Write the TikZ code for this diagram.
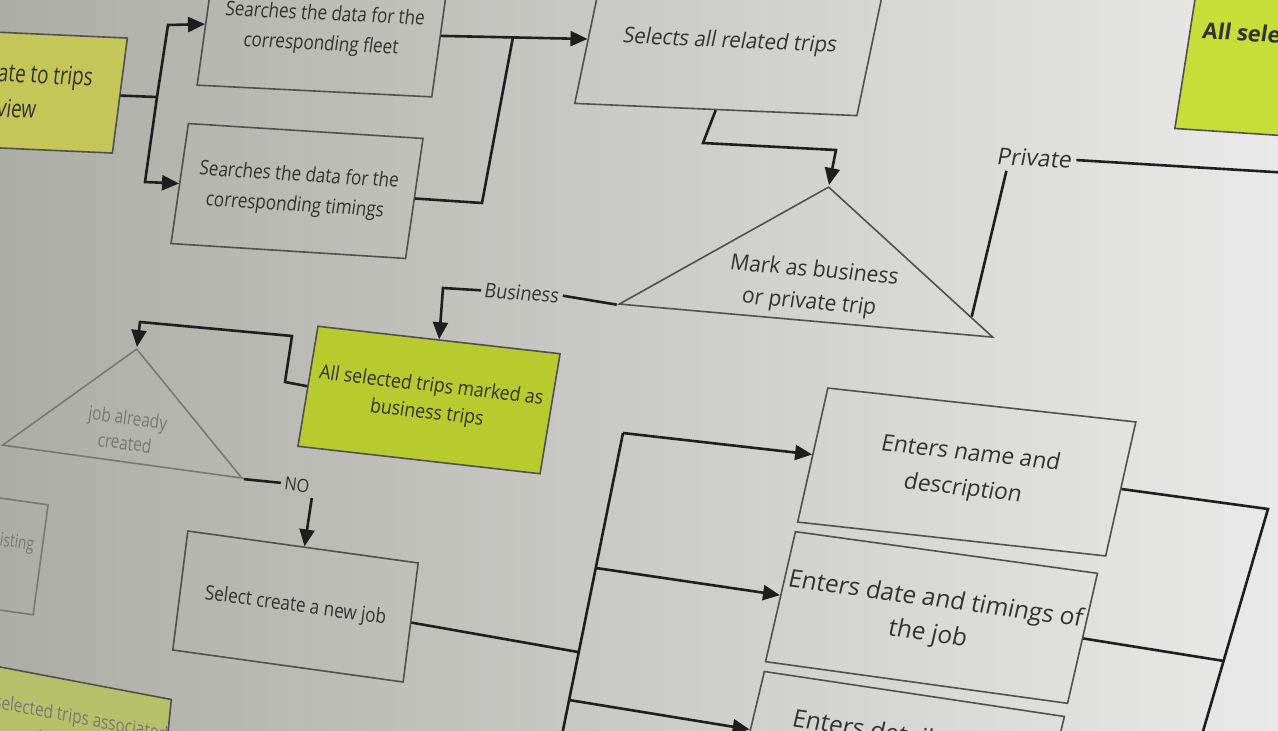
\documentclass[tikz,border=0pt]{standalone}
\usepackage{fontspec}
\setmainfont{Open Sans}
\usetikzlibrary{shapes.geometric,calc,arrows.meta}

\definecolor{bgleft}{RGB}{172,173,165}
\definecolor{bgmid}{RGB}{216,216,214}
\definecolor{bgright}{RGB}{233,233,233}
\definecolor{ink}{RGB}{30,30,30}
\definecolor{edgegray}{RGB}{80,80,80}
\definecolor{txtgray}{RGB}{50,50,50}
\definecolor{faint}{RGB}{120,120,118}
\definecolor{lime}{RGB}{184,203,46}
\definecolor{olive}{RGB}{196,198,88}
\definecolor{brightlime}{RGB}{199,221,56}
\definecolor{palelime}{RGB}{182,192,104}

\newcommand{\fsz}[2]{\fontsize{#1pt}{#2pt}\selectfont}

\begin{document}
\begin{tikzpicture}
    [x=1pt,y=-1pt,
     tilt/.style n args={3}{cm={#1,#2,#3,1,(0,0)}},
     box/.style={draw=edgegray,line width=1.6pt,align=center,inner sep=0pt,text=txtgray},
     greenbox/.style={box,fill=#1},
     decision/.style={isosceles triangle,isosceles triangle stretches,shape border rotate=90,
       draw=edgegray,line width=1.6pt,inner sep=0pt},
     tag/.style={inner sep=4pt,text=txtgray},
     wire/.style={line width=2.6pt,draw=ink},
     pre/.style={<-,wire,>={Stealth[inset=0pt,length=17pt,width=15pt]}},
     post/.style={->,wire,>={Stealth[inset=0pt,length=17pt,width=15pt]}}]
    \useasboundingbox (0,0) rectangle (1278,731);
    \clip (0,0) rectangle (1278,731);
    \shade[left color=bgleft,middle color=bgmid,right color=bgright] (0,0) rectangle (1278,731);

    % junction points of the connectors
    \coordinate (forkA) at (157,97);
    \coordinate (joinB) at (513,37);
    \coordinate (busTop) at (623,433);
    \coordinate (busMid) at (596,568);
    \coordinate (joinC) at (578,652);
    \coordinate (busLow) at (569,700);
    \coordinate (busBot) at (559,750);
    \coordinate (rightTop) at (1268,509);
    \coordinate (joinD) at (1224,661);
    \coordinate (rightBot) at (1199,745);
    \coordinate (privend) at (1290,173);

    \node [greenbox=olive,tilt={.75}{-.034}{.13},minimum width=269pt,minimum height=115pt,
      font=\fsz{25}{35}] (tripsview) at (19,91) {Navigate to trips\\view};
    \node [box,tilt={.85}{-.0425}{.14},minimum width=276pt,minimum height=122pt,
      font=\fsz{20}{30}] (fleet) at (323,30) {Searches the data for the\\corresponding fleet};
    \node [box,tilt={.85}{-.054}{.145},minimum width=276pt,minimum height=120pt,
      font=\fsz{20}{30}] (timings) at (297,191) {Searches the data for the\\corresponding timings};
    \node [box,tilt={.95}{-.041}{.21},minimum width=297pt,minimum height=135pt,
      font=\fsz{21.5}{30}] (selects) at (730,42) {Selects all related trips}
      edge [pre] (fleet.east);
    \node [greenbox=brightlime,tilt={1}{-.066}{.156},minimum width=470pt,minimum height=194pt,
      font=\fsz{22}{31}\bfseries] (allsel) at (1425,47) {All selected trips marked as private trips};

    \node [decision,tilt={.95}{-.084}{.17},minimum width=393pt,minimum height=133.5pt,
      anchor=apex,label={[tilt={.95}{-.084}{.17},font=\fsz{22}{32},align=center,
      text=txtgray,yshift=-27pt]center:Mark as business\\or private trip}] (mark) at (829,185) {};
    \node [tag,tilt={.9}{-.059}{.17},font=\fsz{20}{24}] (bizlbl) at (522,293) {Business};
    \node [tag,tilt={1}{-.05}{.2},font=\fsz{23}{28}] (privlbl) at (1035,158) {Private};

    \node [greenbox=lime,tilt={.9}{-.102}{.167},minimum width=269pt,minimum height=120pt,
      font=\fsz{19.5}{27}] (bizok) at (429,400) {All selected trips marked as\\business trips};
    \node [decision,draw=faint,tilt={.8}{-.11}{.129},minimum width=299pt,minimum height=112.5pt,
      anchor=apex,label={[tilt={.8}{-.11}{.129},font=\fsz{19}{25},align=center,
      text=faint,yshift=-18.5pt]center:job already\\created}] (jobtri) at (137,347) {};
    \node [tag,tilt={.9}{-.12}{.13},font=\fsz{18}{22}] (nolbl) at (297,485) {NO};
    \node [box,draw=faint,text=faint,tilt={.75}{-.105}{.136},minimum width=167pt,
      minimum height=110pt,font=\fsz{18}{26}] (existing) at (-22,551) {Select an existing\\job};
    \node [box,tilt={.85}{-.118}{.126},minimum width=271pt,minimum height=119pt,
      font=\fsz{20}{28}] (selnew) at (295.5,606.5) {Select create a new job}
      edge [pre] (nolbl.south east);
    \node [greenbox=palelime,text=faint,tilt={.8}{-.152}{.1},minimum width=240pt,
      minimum height=100pt,font=\fsz{19}{27}] (assoc) at (69,731)
      {All selected trips associated\\with the job};

    \node [box,tilt={1}{-.11}{.225},minimum width=308pt,minimum height=134pt,
      font=\fsz{22.5}{35}] (namebox) at (966.75,472) {Enters name and\\description}
      edge [pre] (busTop);
    \node [box,tilt={1}{-.138}{.23},minimum width=302pt,minimum height=130pt,
      font=\fsz{24}{34}] (datebox) at (931.5,617.5) {Enters date and timings of\\the job}
      edge [pre] (busMid);
    \node [box,tilt={1}{-.15}{.24},minimum width=300pt,minimum height=120pt,
      font=\fsz{24}{34}] (detailbox) at (900,754) {Enters details of the\\trips}
      edge [pre] (busLow);

    \draw [wire] (tripsview.east) -- (forkA);
    \draw [post] (forkA) -- (168,25) -- (fleet.west);
    \draw [post] (forkA) -- (145,182) -- (timings.west);
    \draw [wire] (timings.east) -- (482,203) -- (joinB);
    \draw [post] (selects.south) -- (703,143) -- (836,150) -- (mark.apex);
    \draw [wire] (mark.left corner) -- (bizlbl.east);
    \draw [post] (bizlbl.west) -- (443,288) -- (bizok.north);
    \draw [wire] ($(mark.apex)!.86!(mark.right corner)$) -- ([xshift=-26pt]privlbl.south);
    \draw [wire] (privlbl.east) -- (privend);
    \draw [post] (bizok.west) -- (285,382) -- (292,336) -- (140,322) -- (jobtri.apex);
    \draw [wire] (jobtri.right corner) -- (nolbl.west);
    \draw [wire] (selnew.east) -- (joinC);
    \draw [wire] (busBot) -- (busTop);
    \draw [wire] (namebox.east) -- (rightTop) -- (rightBot);
    \draw [wire] (datebox.east) -- (joinD);
  \end{tikzpicture}
\end{document}
